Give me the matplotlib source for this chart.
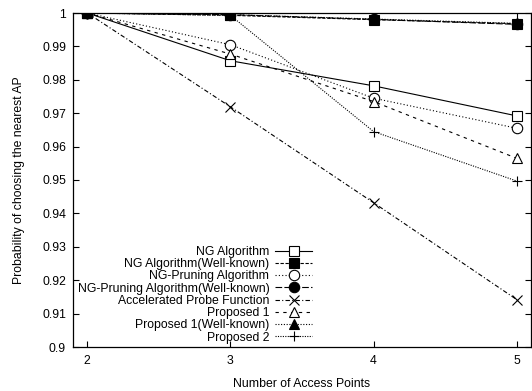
import matplotlib
matplotlib.use("Agg")
import matplotlib.pyplot as plt

plt.rcParams['font.family'] = ['Liberation Sans', 'DejaVu Sans']

access_points = [2, 3, 4, 5]

ng_alg = [1.0, 0.9857, 0.9782, 0.9692]
ng_alg_wk = [1.0, 0.9993, 0.9980, 0.9968]
ng_pruning = [1.0, 0.9905, 0.9745, 0.9655]
ng_pruning_wk = [1.0, 0.9995, 0.9981, 0.9966]
apf = [1.0, 0.9719, 0.9432, 0.9142]
proposed1 = [1.0, 0.9877, 0.9735, 0.9565]
proposed1_wk = [1.0, 0.9995, 0.9982, 0.9969]
proposed2 = [1.0, 0.9993, 0.9645, 0.9497]

labels = [
    "NG Algorithm",
    "NG Algorithm(Well-known)",
    "NG-Pruning Algorithm",
    "NG-Pruning Algorithm(Well-known)",
    "Accelerated Probe Function",
    "Proposed 1",
    "Proposed 1(Well-known)",
    "Proposed 2",
]
series = [ng_alg, ng_alg_wk, ng_pruning, ng_pruning_wk, apf,
          proposed1, proposed1_wk, proposed2]

styles = [
    dict(ls='-', marker='s', mfc='white'),
    dict(ls=(0, (3, 1.5)), marker='s', mfc='black'),
    dict(ls=(0, (1, 2)), marker='o', mfc='white'),
    dict(ls=(0, (6, 2)), marker='o', mfc='black'),
    dict(ls=(0, (4, 2, 1, 2)), marker='x', mfc='none'),
    dict(ls=(0, (3, 4)), marker='^', mfc='white'),
    dict(ls=(0, (1, 1.5)), marker='^', mfc='black'),
    dict(ls=(0, (1, 1.2)), marker='+', mfc='none'),
]

FS = 8.8

fig = plt.figure(figsize=(5.32, 3.91), dpi=100)
ax = fig.add_axes([73 / 532, 44 / 391, 458 / 532, 334 / 391])

for vals, lab, st in zip(series, labels, styles):
    ax.plot(access_points, vals, color='black', lw=0.8, ls=st['ls'],
            marker=st['marker'], mfc=st['mfc'], mec='black', mew=0.8,
            ms=7.5, label=lab)

ax.set_xlim(1.9, 5.1)
ax.set_ylim(0.9, 1.0)
ax.set_xticks(access_points)
ax.set_yticks([0.9, 0.91, 0.92, 0.93, 0.94, 0.95, 0.96, 0.97, 0.98, 0.99, 1.0])
ax.set_yticklabels(["0.9", "0.91", "0.92", "0.93", "0.94", "0.95", "0.96",
                    "0.97", "0.98", "0.99", "1"])
ax.tick_params(direction='in', length=4, width=0.8, labelsize=FS,
               top=True, right=True)
ax.tick_params(axis='x', pad=6)
ax.tick_params(axis='y', pad=5)
for s in ax.spines.values():
    s.set_linewidth(0.9)

ax.set_xlabel("Number of Access Points", fontsize=FS, labelpad=8)
ax.set_ylabel("Probability of choosing the nearest AP", fontsize=FS,
              labelpad=12)

ax.legend(loc='lower right', bbox_to_anchor=(0.522, 0.01), frameon=False,
          markerfirst=False, fontsize=FS, handlelength=3.0, handletextpad=0.5,
          labelspacing=0.02, borderpad=0, borderaxespad=0)

fig.savefig("out.png", dpi=100)
